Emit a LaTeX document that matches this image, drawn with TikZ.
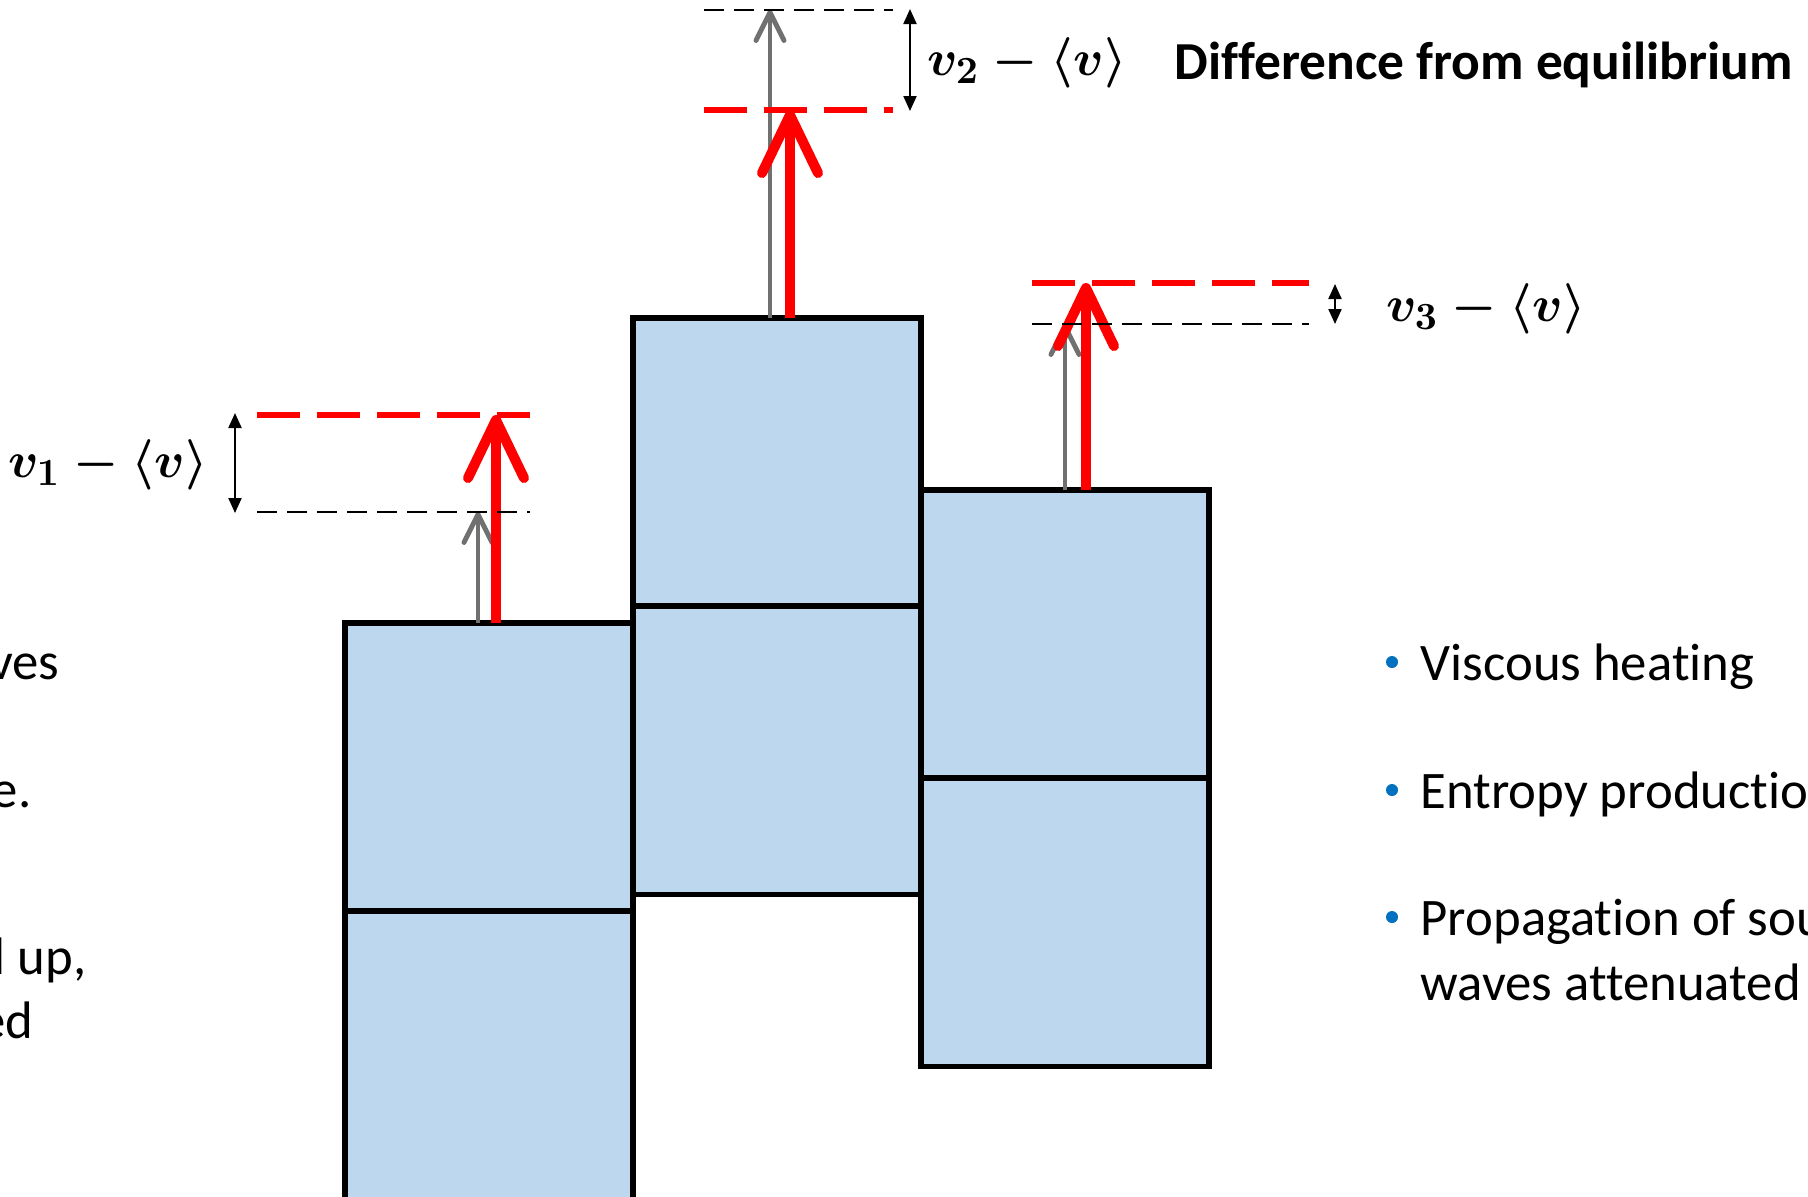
\documentclass[tikz,border=0pt]{standalone}
\usepackage{fontspec}
\setmainfont{Carlito}[Ligatures=CommonOff]
\usepackage{amsmath}
\usetikzlibrary{arrows.meta, positioning}
\definecolor{cellBlue}{RGB}{189,215,238}
\definecolor{bulletBlue}{RGB}{0,112,192}
\definecolor{arrowGray}{RGB}{112,112,112}

\begin{document}
\begin{tikzpicture}[
  x=0.01cm, y=-0.01cm,
  cellbox/.style={rectangle, draw=black, line width=1.6pt, fill=cellBlue,
              minimum width=2.88cm, minimum height=2.88cm,
              inner sep=0pt, outer sep=0pt},
  eqarr/.style={-{Straight Barb[length=0.28cm, width=0.28cm, round]},
              line width=1.4pt, color=arrowGray},
  dvarr/.style={-{Straight Barb[length=0.58cm, width=0.56cm, round]},
              line width=2.85pt, color=red},
  eqline/.style={draw=black, line width=0.7pt, dash pattern=on 0.2cm off 0.1cm},
  topline/.style={draw=red, line width=1.6pt, dash pattern=on 0.43cm off 0.17cm},
  dimarr/.style={{Triangle[length=0.15cm, width=0.13cm]}-{Triangle[length=0.15cm, width=0.13cm]},
              line width=0.6pt},
  lbl/.style={inner sep=0pt, font=\fontsize{15.5}{19}\selectfont\boldmath},
  headtxt/.style={anchor=base west, inner sep=0pt, font=\fontsize{15.2}{18}\selectfont\bfseries},
  itemtxt/.style={anchor=base west, inner sep=0pt, font=\fontsize{15}{18}\selectfont},
  fragtxt/.style={anchor=base east, inner sep=0pt, font=\fontsize{15}{18}\selectfont},
  dot/.style={circle, fill=bulletBlue, inner sep=0pt, minimum size=0.12cm},
]
\useasboundingbox (0,0) rectangle (1808,1196);

%% Cells
\node[cellbox, anchor=north west] (c1a) at (345,623) {};
\node[cellbox, below=0pt of c1a]   (c1b) {};
\node[cellbox, anchor=north west] (c2a) at (633,318) {};
\node[cellbox, below=0pt of c2a]   (c2b) {};
\node[cellbox, anchor=north west] (c3a) at (921,490) {};
\node[cellbox, below=0pt of c3a]   (c3b) {};

%% Arrow tips
\coordinate (e1) at (478,512);
\coordinate (t1) at (496,415);
\coordinate (e2) at (770,10);
\coordinate (t2) at (790,110);
\coordinate (e3) at (1065,324);
\coordinate (t3) at (1086,283);

%% Arrows
\draw[eqarr] (c1a.north -| e1) -- (e1);
\draw[eqarr] (c2a.north -| e2) -- (e2);
\draw[eqarr] (c3a.north -| e3) -- (e3);
\draw[dvarr] (c1a.north -| t1) -- (t1);
\draw[dvarr] (c2a.north -| t2) -- (t2);
\draw[dvarr] (c3a.north -| t3) -- (t3);

%% Levels
\draw[eqline]  (257,512) -- (530,512);
\draw[topline] (257,415) -- (530,415);
\draw[eqline]  (704,10) -- (893,10);
\draw[topline] (704,110) -- (893,110);
\draw[topline] (1032,283) -- (1309,283);
\draw[eqline]  (1032,324) -- (1309,324);

%% Differences
\draw[dimarr] (235,413) -- (235,513);
\draw[dimarr] (910,9) -- (910,111);
\draw[dimarr] (1335,284) -- (1335,324);
\node[lbl] (d1) at (108,465) {$v_1-\langle v\rangle$};
\node[lbl] (d2) at (1027,63) {$v_2-\langle v\rangle$};
\node[lbl] (d3) at (1486,309) {$v_3-\langle v\rangle$};
\node[headtxt] (hd) at (1174,79) {Difference from equilibrium};

%% Text
\node[fragtxt] (f1) at (60,679) {ves};
\node[fragtxt] (f2) at (32,807) {e.};
\node[fragtxt] (f3) at (87,974) {l up,};
\node[fragtxt] (f4) at (34,1038) {ed};

\node[dot] (p1) at (1392,662) {};
\node[dot] (p2) at (1392,790) {};
\node[dot] (p3) at (1392,917) {};
\node[itemtxt] (i1) at (1420,680) {Viscous heating};
\node[itemtxt] (i2) at (1420,808) {Entropy productio};
\node[itemtxt] (i3) at (1420,935) {Propagation of sou};
\node[itemtxt] (i4) at (1420,1000) {waves attenuated};
\end{tikzpicture}
\end{document}
